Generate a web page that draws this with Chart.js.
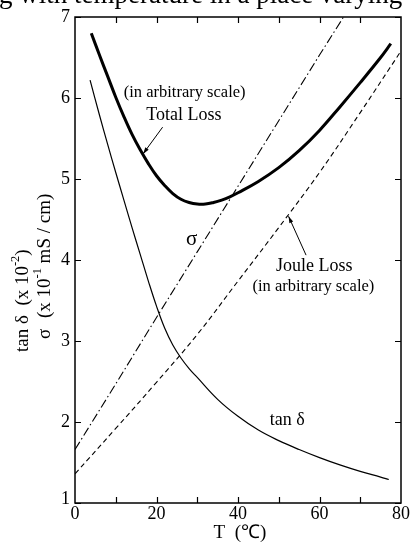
<!DOCTYPE html>
<html>
<head>
<meta charset="utf-8">
<script src="https://cdn.jsdelivr.net/npm/chart.js@4/dist/chart.umd.min.js"></script>
<style>
  body { margin: 0; background: #fff; }
  #wrap { width: 410px; height: 542px; position: relative; }
</style>
</head>
<body>
<div id="wrap"><canvas id="chart" width="410" height="542"></canvas></div>
<script>
// values: T in degrees C, y in axis units
const totalT = [4, 6, 8, 10, 12, 14, 16, 18, 20, 22, 24, 26, 28, 30, 32, 34, 36, 38, 40, 45, 50, 55, 60, 65, 70, 75, 77.5];
const totalLoss = [6.80, 6.53, 6.27, 6.01, 5.77, 5.55, 5.36, 5.19, 5.04, 4.92, 4.82, 4.75, 4.71, 4.69, 4.69, 4.71, 4.74, 4.78, 4.83, 4.97, 5.14, 5.35, 5.60, 5.89, 6.19, 6.50, 6.67];

const tanT = [3.7, 6, 8, 10, 12, 14, 16, 18, 20, 22, 24, 26, 28, 30, 35, 40, 45, 50, 55, 60, 65, 70, 75, 77];
const tanDelta = [6.22, 5.79, 5.43, 5.08, 4.74, 4.40, 4.07, 3.74, 3.43, 3.16, 2.95, 2.79, 2.66, 2.55, 2.28, 2.07, 1.90, 1.77, 1.66, 1.56, 1.47, 1.39, 1.32, 1.29];

const sigmaT = [0, 10, 20, 30, 40, 50, 60, 65.9];
const sigma = [1.66, 2.47, 3.29, 4.10, 4.91, 5.72, 6.53, 7.0];

const jouleT = [0, 10, 20, 30, 40, 50, 60, 70, 80];
const jouleLoss = [1.36, 1.92, 2.49, 3.08, 3.74, 4.40, 5.08, 5.82, 6.58];

const xTickLabels = [0, 20, 40, 60, 80];
const xMinorTicks = [10, 20, 30, 40, 50, 60, 70];
const yTickLabels = [1, 2, 3, 4, 5, 6, 7];

const serif = '"Liberation Serif", "Times New Roman", serif';

function pts(xs, ys) {
    return xs.map((x, i) => ({x: x, y: ys[i]}));
}

// free text drawn in data units
const notes = [
    {x: 26.9, y: 6.06, text: '(in arbitrary scale)', size: 16.5},
    {x: 26.7, y: 5.79, text: 'Total Loss', size: 18},
    {x: 28.6, y: 4.25, text: 'σ', size: 21},
    {x: 58.7, y: 3.92, text: 'Joule Loss', size: 18},
    {x: 58.5, y: 3.67, text: '(in arbitrary scale)', size: 16.5},
    {x: 52.1, y: 2.02, text: 'tan δ', size: 18},
];
const arrows = [
    {x1: 21.5, y1: 5.64, x2: 16.7, y2: 5.31},
    {x1: 56.7, y1: 4.06, x2: 52.4, y2: 4.54},
];

function richText(c, parts, x, y, size) {
    let cx = x;
    parts.forEach((p) => {
        const sup = p[1];
        c.font = (sup ? size * 0.65 : size) + 'px ' + serif;
        c.fillText(p[0], cx, sup ? y - size * 0.4 : y);
        cx += c.measureText(p[0]).width;
    });
}

const framePlugin = {
    id: 'frame',
    afterDatasetsDraw(chart) {
        const c = chart.ctx;
        const a = chart.chartArea;
        const sx = chart.scales.x, sy = chart.scales.y;
        c.save();
        c.strokeStyle = '#000';
        c.fillStyle = '#000';
        c.lineWidth = 1.5;
        c.strokeRect(a.left, a.top, a.right - a.left, a.bottom - a.top);

        c.lineWidth = 1.2;
        c.beginPath();
        xMinorTicks.forEach((t) => {
            const px = Math.round(sx.getPixelForValue(t)) + 0.5;
            c.moveTo(px, a.bottom); c.lineTo(px, a.bottom - 6);
            c.moveTo(px, a.top); c.lineTo(px, a.top + 6);
        });
        yTickLabels.forEach((t) => {
            const py = Math.round(sy.getPixelForValue(t)) + 0.5;
            c.moveTo(a.left, py); c.lineTo(a.left + 6, py);
            c.moveTo(a.right, py); c.lineTo(a.right - 6, py);
        });
        c.stroke();

        c.font = '18px ' + serif;
        c.textAlign = 'center';
        c.textBaseline = 'middle';
        xTickLabels.forEach((t) => {
            c.fillText(String(t), sx.getPixelForValue(t), a.bottom + 11);
        });
        c.textAlign = 'right';
        yTickLabels.forEach((t) => {
            // the lowest label sits a little higher, clear of the x "0"
            const dy = (t === yTickLabels[0]) ? -4 : 0;
            c.fillText(String(t), a.left - 5, sy.getPixelForValue(t) + dy);
        });

        // axis titles
        c.font = '19px ' + serif;
        c.textAlign = 'center';
        c.fillText('T  (℃)', (a.left + a.right) / 2 + 2, a.bottom + 30);

        c.textAlign = 'left';
        c.textBaseline = 'middle';
        c.save();
        c.translate(23, 352);
        c.rotate(-Math.PI / 2);
        richText(c, [['tan δ  (x 10', false], ['-2', true], [')', false]], 0, 0, 19);
        c.restore();
        c.save();
        c.translate(45, 339);
        c.rotate(-Math.PI / 2);
        richText(c, [['σ', false]], 0, 0, 19);
        richText(c, [['(x 10', false], ['-1', true], [' mS / cm)', false]], 21, 0, 19);
        c.restore();

        // annotations
        c.textAlign = 'center';
        notes.forEach((n) => {
            c.font = n.size + 'px ' + serif;
            c.fillText(n.text, sx.getPixelForValue(n.x), sy.getPixelForValue(n.y));
        });
        c.lineWidth = 1;
        arrows.forEach((ar) => {
            const x1 = sx.getPixelForValue(ar.x1), y1 = sy.getPixelForValue(ar.y1);
            const x2 = sx.getPixelForValue(ar.x2), y2 = sy.getPixelForValue(ar.y2);
            c.beginPath(); c.moveTo(x1, y1); c.lineTo(x2, y2); c.stroke();
            const ang = Math.atan2(y2 - y1, x2 - x1);
            c.beginPath();
            c.moveTo(x2, y2);
            c.lineTo(x2 - 7 * Math.cos(ang - 0.3), y2 - 7 * Math.sin(ang - 0.3));
            c.lineTo(x2 - 7 * Math.cos(ang + 0.3), y2 - 7 * Math.sin(ang + 0.3));
            c.closePath(); c.fill();
        });

        // clipped caption line from the page above the figure
        c.font = '27px ' + serif;
        c.textAlign = 'left';
        c.textBaseline = 'bottom';
        c.fillText('g with temperature in a place varying', -1, 9);
        c.restore();
    }
};

const ctx = document.getElementById('chart');
const lineBase = {
    borderColor: '#000',
    backgroundColor: 'transparent',
    pointRadius: 0,
    fill: false,
    showLine: true,
};

new Chart(ctx, {
    type: 'scatter',
    data: {
        datasets: [
            Object.assign({label: 'Total Loss', data: pts(totalT, totalLoss),
                borderWidth: 3, tension: 0.4}, lineBase),
            Object.assign({label: 'tan δ', data: pts(tanT, tanDelta),
                borderWidth: 1.2, tension: 0.4}, lineBase),
            Object.assign({label: 'σ', data: pts(sigmaT, sigma),
                borderWidth: 1.1, borderDash: [9, 3, 1.5, 3], tension: 0}, lineBase),
            Object.assign({label: 'Joule Loss', data: pts(jouleT, jouleLoss),
                borderWidth: 1.1, borderDash: [5, 3.5], tension: 0.4}, lineBase),
        ]
    },
    options: {
        responsive: false,
        animation: false,
        layout: {padding: {left: 75, right: 9, top: 17, bottom: 39}},
        plugins: {legend: {display: false}, tooltip: {enabled: false}},
        scales: {
            x: {type: 'linear', min: 0, max: 80, display: false},
            y: {type: 'linear', min: 1, max: 7, display: false},
        }
    },
    plugins: [framePlugin]
});
</script>
</body>
</html>
